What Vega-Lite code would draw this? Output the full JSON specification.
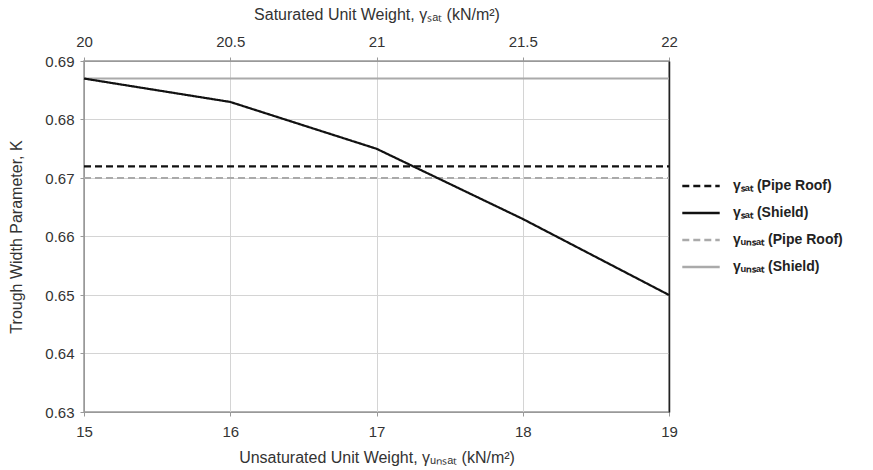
{
  "$schema": "https://vega.github.io/schema/vega-lite/v6.json",
  "autosize": {"type": "none"},
  "width": 585,
  "height": 351,
  "padding": {"left": 84, "top": 61, "right": 204, "bottom": 58},
  "config": {
    "font": "Liberation Sans",
    "view": {"stroke": "#999", "strokeWidth": 1.5},
    "axis": {
      "labelFont": "Liberation Sans",
      "titleFont": "Liberation Sans",
      "labelFontSize": 15,
      "titleFontSize": 16,
      "titleFontWeight": "normal",
      "labelColor": "#333",
      "titleColor": "#333",
      "gridColor": "#d4d4d4",
      "domainColor": "#999",
      "tickColor": "#999",
      "tickSize": 4,
      "labelFlush": false
    }
  },
  "datasets": {
    "sat": [
      {"series": "γₛₐₜ (Pipe Roof)", "ws": 20, "K": 0.672},
      {"series": "γₛₐₜ (Pipe Roof)", "ws": 22, "K": 0.672},
      {"series": "γₛₐₜ (Shield)", "ws": 20, "K": 0.687},
      {"series": "γₛₐₜ (Shield)", "ws": 20.5, "K": 0.683},
      {"series": "γₛₐₜ (Shield)", "ws": 21, "K": 0.675},
      {"series": "γₛₐₜ (Shield)", "ws": 21.5, "K": 0.663},
      {"series": "γₛₐₜ (Shield)", "ws": 22, "K": 0.65}
    ],
    "unsat": [
      {"series": "γᵤₙₛₐₜ (Pipe Roof)", "wu": 15, "K": 0.67},
      {"series": "γᵤₙₛₐₜ (Pipe Roof)", "wu": 19, "K": 0.67},
      {"series": "γᵤₙₛₐₜ (Shield)", "wu": 15, "K": 0.687},
      {"series": "γᵤₙₛₐₜ (Shield)", "wu": 19, "K": 0.687}
    ]
  },
  "layer": [
    {
      "data": {"name": "unsat"},
      "mark": {"type": "line", "strokeWidth": 2},
      "encoding": {
        "x": {
          "field": "wu", "type": "quantitative",
          "scale": {"domain": [15, 19], "nice": false, "zero": false},
          "axis": {"orient": "bottom", "values": [15, 16, 17, 18, 19], "format": "~g", "title": "Unsaturated Unit Weight, γᵤₙₛₐₜ (kN/m²)", "labelPadding": 8, "titlePadding": 10, "grid": true}
        },
        "y": {
          "field": "K", "type": "quantitative",
          "scale": {"domain": [0.63, 0.69], "nice": false, "zero": false},
          "axis": {"values": [0.63, 0.64, 0.65, 0.66, 0.67, 0.68, 0.69], "format": ".2f", "title": "Trough Width Parameter, K", "titlePadding": 20, "labelPadding": 6, "grid": true}
        },
        "color": {
          "field": "series", "type": "nominal",
          "scale": {"domain": ["γₛₐₜ (Pipe Roof)", "γₛₐₜ (Shield)", "γᵤₙₛₐₜ (Pipe Roof)", "γᵤₙₛₐₜ (Shield)"], "range": ["#111", "#111", "#aaa", "#aaa"]},
          "legend": {
            "title": null, "orient": "none", "legendX": 597, "legendY": 105,
            "symbolType": "stroke", "symbolStrokeWidth": 2.5, "symbolSize": 1400,
            "labelFontSize": 14, "labelFontWeight": "bold", "labelColor": "#222",
            "labelOffset": 12, "rowPadding": -11, "labelFont": "Liberation Sans"
          }
        },
        "strokeDash": {
          "field": "series", "type": "nominal",
          "scale": {"domain": ["γₛₐₜ (Pipe Roof)", "γₛₐₜ (Shield)", "γᵤₙₛₐₜ (Pipe Roof)", "γᵤₙₛₐₜ (Shield)"], "range": [[7, 4], [1, 0], [7, 4], [1, 0]]},
          "legend": null
        }
      }
    },
    {
      "data": {"name": "sat"},
      "mark": {"type": "line", "strokeWidth": 2.2},
      "encoding": {
        "x": {
          "field": "ws", "type": "quantitative",
          "scale": {"domain": [20, 22], "nice": false, "zero": false},
          "axis": {"orient": "top", "values": [20, 20.5, 21, 21.5, 22], "format": "~g", "title": "Saturated Unit Weight, γₛₐₜ (kN/m²)", "labelPadding": 8, "titlePadding": 12, "grid": false}
        },
        "y": {
          "field": "K", "type": "quantitative",
          "scale": {"domain": [0.63, 0.69], "nice": false, "zero": false},
          "axis": {"orient": "right", "labels": false, "ticks": false, "grid": false, "title": null, "domainColor": "#222", "domainWidth": 1.5}
        },
        "color": {"field": "series", "type": "nominal"},
        "strokeDash": {"field": "series", "type": "nominal"}
      }
    }
  ],
  "resolve": {"scale": {"x": "independent", "y": "independent"}}
}
